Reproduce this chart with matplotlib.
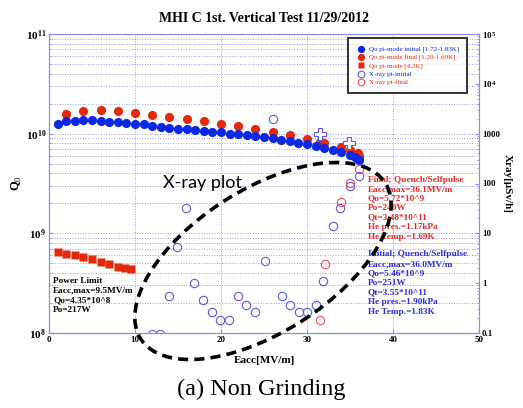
#!/usr/bin/env python
import matplotlib
matplotlib.use('Agg')
import matplotlib.pyplot as plt
from matplotlib.patches import Ellipse

plt.rcParams['font.family'] = ['Liberation Serif', 'DejaVu Serif']
plt.rcParams['mathtext.fontset'] = 'custom'
plt.rcParams['mathtext.rm'] = 'Liberation Serif'
plt.rcParams['mathtext.bf'] = 'Liberation Serif:bold'

# Qo pi-mode initial [1.72-1.83K]
qi_eacc = [1, 2, 3, 4, 5, 6, 7, 8, 9, 10, 11, 12, 13, 14, 15, 16, 17, 18,
           19, 20, 21, 22, 23, 24, 25, 26, 27, 28, 29, 30, 31, 32, 33, 34,
           35, 35.6, 36.0]
qi_q0 = [1.24e10, 1.33e10, 1.34e10, 1.37e10, 1.36e10, 1.33e10, 1.32e10,
         1.32e10, 1.28e10, 1.26e10, 1.24e10, 1.20e10, 1.18e10, 1.15e10,
         1.12e10, 1.11e10, 1.10e10, 1.06e10, 1.05e10, 1.04e10, 1.00e10,
         9.9e9, 9.7e9, 9.4e9, 9.2e9, 9.1e9, 8.65e9, 8.45e9, 8.13e9, 7.87e9,
         7.46e9, 7.13e9, 6.81e9, 6.5e9, 6.17e9, 5.8e9, 5.46e9]

# Qo pi-mode final [1.29-1.69K]
qf_eacc = [2, 4, 6, 8, 10, 12, 14, 16, 18, 20, 22, 24, 26, 28, 30, 31.5,
           32, 34, 35, 35.9, 36.0, 36.1]
qf_q0 = [1.59e10, 1.69e10, 1.71e10, 1.67e10, 1.61e10, 1.53e10, 1.47e10,
         1.41e10, 1.33e10, 1.26e10, 1.20e10, 1.11e10, 1.05e10, 9.7e9, 8.93e9,
         8.25e9, 8.05e9, 7.3e9, 6.8e9, 6.4e9, 6.0e9, 5.72e9]

# Qo pi-mode [4.2K]
q42_eacc = [1, 2, 3, 4, 5, 6, 7, 8, 8.8, 9.5]
q42_q0 = [6.44e8, 6.2e8, 6.0e8, 5.78e8, 5.52e8, 5.19e8, 4.92e8, 4.63e8,
          4.5e8, 4.35e8]

# X-ray pi-initial [uSv/h]
xi_eacc = [12.0, 12.9, 13.95, 14.9, 15.9, 16.9, 17.9, 18.9, 19.85, 20.9,
           22.0, 22.9, 24.0, 25.1, 26.1, 27.05, 28.0, 29.1, 30.0, 31.1, 31.9,
           33.0, 33.85, 35.0, 36.0]
xi_dose = [0.095, 0.095, 0.55, 5.4, 31.8, 1.03, 0.46, 0.27, 0.185, 0.185,
           0.55, 0.37, 0.27, 2.8, 1930, 0.55, 0.37, 0.27, 0.27, 0.37, 1.11,
           14.2, 32, 88, 144]

# X-ray pi-final [uSv/h]
xf_eacc = [31.5, 32.1, 33.9, 35.0, 36.0]
xf_dose = [0.183, 2.41, 42, 102, 197]

# peak readings
xp_eacc = [31.5, 34.9]
xp_dose = [1000, 650]

blue = '#0a28e6'
red = '#e6280a'
frame = '#8c8ce6'

fig = plt.figure(figsize=(5.23, 4.08), dpi=100)
ax = fig.add_axes([49 / 523, 1 - 333 / 408, 430 / 523, 299 / 408])
ax2 = ax.twinx()

ax.semilogy(qf_eacc, qf_q0, 'o', color=red, ms=6.6, mec='none',
            label='Qo pi-mode final [1.29-1.69K]')
ax.semilogy(qi_eacc, qi_q0, 'o', color=blue, ms=6.6, mec='none',
            label='Qo pi-mode initial [1.72-1.83K]')
ax.semilogy(q42_eacc, q42_q0, 's', color=red, ms=5.3, mec='none',
            label='Qo pi-mode [4.2K]')

ax2.semilogy(xi_eacc, xi_dose, 'o', mfc='none', mec='#5a5aea', ms=6,
             mew=0.8, label='X-ray pi-initial')
ax2.semilogy(xf_eacc, xf_dose, 'o', mfc='none', mec='#ee5050', ms=6,
             mew=0.8, label='X-ray pi-final')
ax2.semilogy(xp_eacc, xp_dose, 'P', mfc='white', mec='#5a5aea', ms=8,
             mew=0.8)

ax.set_xlim(0, 50)
ax.set_ylim(1e8, 1e11)
ax2.set_ylim(0.1, 1e5)

ax.set_xticks([0, 10, 20, 30, 40, 50])
ax.set_xticklabels(['0', '10', '20', '30', '40', '50'], fontweight='bold',
                   fontsize=6.5)
ax.set_yticks([1e8, 1e9, 1e10, 1e11])
ax.set_yticklabels([r'$\mathbf{10^{8}}$', r'$\mathbf{10^{9}}$',
                    r'$\mathbf{10^{10}}$', r'$\mathbf{10^{11}}$'], fontsize=8)
ax2.set_yticks([0.1, 1, 10, 100, 1000, 1e4, 1e5])
ax2.set_yticklabels(['0.1', '1', '10', '100', '1000',
                     r'$\mathbf{10^{4}}$', r'$\mathbf{10^{5}}$'],
                    fontweight='bold', fontsize=6.5)

for a in (ax, ax2):
    a.tick_params(which='both', direction='in', color=frame, pad=2)
    a.tick_params(which='major', length=3)
    a.tick_params(which='minor', length=1.5)
    for s in a.spines.values():
        s.set_color(frame)
        s.set_linewidth(0.8)

ax.grid(True, which='both', axis='y', color='#9a9af0', ls=':', lw=0.7)
ax.grid(True, which='major', axis='x', color='#9a9af0', ls=':', lw=0.7)

ax.set_xlabel('Eacc[MV/m]', fontweight='bold', fontsize=8, labelpad=9)
ax.set_ylabel('Q$_0$', fontweight='bold', fontsize=9, labelpad=1)
ax2.set_ylabel('Xray[\u03bcSv/h]', fontweight='bold', fontsize=8,
               rotation=270, labelpad=9)
ax.set_title('MHI C 1st. Vertical Test 11/29/2012', fontweight='bold',
             fontsize=10, pad=9)

# legend gathers marks from both scales
h1, l1 = ax.get_legend_handles_labels()
h2, l2 = ax2.get_legend_handles_labels()
order = [1, 0, 2]
handles = [h1[i] for i in order] + h2
labels = [l1[i] for i in order] + l2
leg = ax2.legend(handles, labels, loc='upper right',
                 bbox_to_anchor=(470 / 523, 1 - 35 / 408),
                 bbox_transform=fig.transFigure, fontsize=5, frameon=True,
                 fancybox=False, edgecolor='black', borderpad=1.1,
                 handletextpad=0.4, labelspacing=0.3, markerscale=0.8,
                 handlelength=1.5)
leg.get_frame().set_linewidth(1.4)
for txt, col in zip(leg.get_texts(), [blue, red, red, blue, red]):
    txt.set_color(col)

def block(x, y0, lines, color):
    for i, s in enumerate(lines):
        fig.text(x / 523, 1 - (y0 + 9.5 * i) / 408, s, color=color,
                 fontsize=6.7, fontweight='bold', va='center', ha='left')

block(368, 179.5, ['Final; Quench/Selfpulse', 'Eacc,max=36.1MV/m',
                   'Qo=5.72*10^9', 'Po=240W', 'Qt=3.48*10^11',
                   'He pres.=1.17kPa', 'He Temp.=1.69K'], '#e62a2a')
block(368, 254.5, ['Initial; Quench/Selfpulse', 'Eacc,max=36.0MV/m',
                   'Qo=5.46*10^9', 'Po=251W', 'Qt=3.55*10^11',
                   'He pres.=1.90kPa', 'He Temp.=1.83K'], '#2a2ae0')
block(53, 281, ['Power Limit', 'Eacc,max=9.5MV/m', 'Qo=4.35*10^8',
                'Po=217W'], 'black')

fig.text(163 / 523, 1 - 183 / 408, 'X-ray plot', fontsize=13,
         family=['Lato', 'DejaVu Sans'], va='center', ha='left')

ring = Ellipse((2.63, 1.47), 2.9, 1.43, angle=32.5, fill=False,
               ec='black', lw=2.6, ls=(0, (2.8, 1.7)),
               transform=fig.dpi_scale_trans, zorder=10)
fig.add_artist(ring)

fig.text(0.5, 1 - 389 / 408, '(a) Non Grinding', fontsize=17.5,
         ha='center', va='center')

fig.savefig('out.png', dpi=100)
